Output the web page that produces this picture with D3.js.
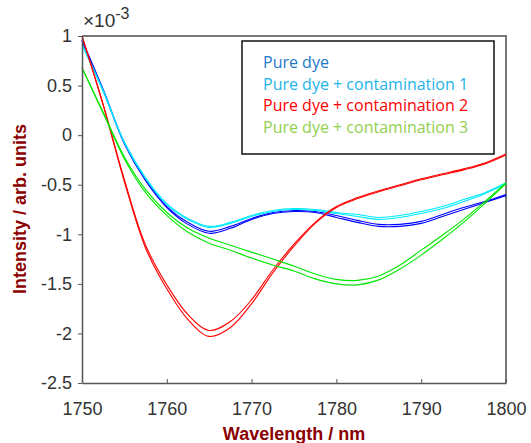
<!DOCTYPE html>
<html>
<head>
<meta charset="utf-8">
<script src="https://cdn.jsdelivr.net/npm/d3@7"></script>
<style>
  body { margin: 0; background: #fff; }
  svg { display: block; }
</style>
</head>
<body>
<script>
const width = 531;
const height = 443;
const margin = { left: 82, right: 25, top: 36, bottom: 60 };

// wavelength grid (nm), intensity in units of 1e-3
const wavelengths = [1750, 1752.5, 1755, 1757.5, 1760, 1762.5, 1765, 1767.5, 1770, 1772.5,
    1775, 1777.5, 1780, 1782.5, 1785, 1787.5, 1790, 1792.5, 1795, 1797.5, 1800];

const pureDyeA = [0.96, 0.46, -0.08, -0.45, -0.72, -0.88, -0.97, -0.92, -0.84, -0.78,
    -0.76, -0.77, -0.81, -0.86, -0.90, -0.90, -0.87, -0.80, -0.73, -0.67, -0.60];
const pureDyeB = [0.95, 0.45, -0.09, -0.46, -0.73, -0.90, -0.99, -0.94, -0.85, -0.79,
    -0.77, -0.78, -0.83, -0.88, -0.92, -0.92, -0.89, -0.82, -0.75, -0.68, -0.61];
const contam1A = [0.91, 0.44, -0.08, -0.44, -0.70, -0.85, -0.93, -0.89, -0.82, -0.77,
    -0.75, -0.76, -0.79, -0.82, -0.85, -0.83, -0.79, -0.74, -0.67, -0.59, -0.49];
const contam1B = [0.92, 0.45, -0.07, -0.43, -0.69, -0.84, -0.92, -0.88, -0.81, -0.76,
    -0.74, -0.75, -0.78, -0.80, -0.83, -0.81, -0.77, -0.72, -0.65, -0.58, -0.48];
const contam2A = [1.00, 0.31, -0.45, -1.11, -1.51, -1.81, -1.97, -1.88, -1.66, -1.36,
    -1.10, -0.88, -0.72, -0.63, -0.56, -0.50, -0.44, -0.39, -0.34, -0.28, -0.19];
const contam2B = [1.00, 0.30, -0.47, -1.14, -1.55, -1.86, -2.03, -1.94, -1.70, -1.39,
    -1.12, -0.89, -0.73, -0.64, -0.57, -0.51, -0.45, -0.40, -0.35, -0.29, -0.20];
const contam3A = [0.68, 0.23, -0.22, -0.55, -0.78, -0.94, -1.04, -1.11, -1.18, -1.25,
    -1.32, -1.40, -1.455, -1.465, -1.42, -1.31, -1.16, -1.01, -0.85, -0.67, -0.48];
const contam3B = [0.68, 0.22, -0.24, -0.58, -0.81, -0.98, -1.09, -1.16, -1.24, -1.31,
    -1.37, -1.45, -1.50, -1.51, -1.46, -1.35, -1.21, -1.05, -0.88, -0.69, -0.49];

const xTicks = [1750, 1760, 1770, 1780, 1790, 1800];
const yTicks = [1, 0.5, 0, -0.5, -1, -1.5, -2, -2.5];

const legendNames = ["Pure dye", "Pure dye + contamination 1",
    "Pure dye + contamination 2", "Pure dye + contamination 3"];
const legendColors = ["#1f78c8", "#1eb4ea", "#ff0000", "#92d050"];

const series = [
    { values: pureDyeA, color: "#0000ff" },
    { values: pureDyeB, color: "#0000ff" },
    { values: contam1A, color: "#00eaff" },
    { values: contam1B, color: "#00eaff" },
    { values: contam2A, color: "#ff0000" },
    { values: contam2B, color: "#ff0000" },
    { values: contam3A, color: "#00e600" },
    { values: contam3B, color: "#00e600" }
];

const svg = d3.select("body")
    .append("svg")
    .attr("width", width)
    .attr("height", height);

const x = d3.scaleLinear()
    .domain([1750, 1800])
    .range([margin.left, width - margin.right]);
const y = d3.scaleLinear()
    .domain([-2.5, 1])
    .range([height - margin.bottom, margin.top]);

// frame: top and right edges
svg.append("path")
    .attr("d", `M${x(1750)},${y(1)}H${x(1800)}V${y(-2.5)}`)
    .attr("fill", "none")
    .attr("stroke", "#777")
    .attr("stroke-width", 2);

const line = d3.line()
    .x((d, i) => x(wavelengths[i]))
    .y(d => y(d))
    .curve(d3.curveCatmullRom.alpha(0.5));

svg.append("g")
    .selectAll("path")
    .data(series)
    .enter()
    .append("path")
    .attr("d", d => line(d.values))
    .attr("fill", "none")
    .attr("stroke", d => d.color)
    .attr("stroke-width", 1.1);

svg.append("g")
    .attr("transform", `translate(0,${y(-2.5)})`)
    .call(d3.axisBottom(x).tickValues(xTicks).tickFormat(d => d).tickSizeInner(-4).tickSizeOuter(0).tickPadding(19));
svg.append("g")
    .attr("transform", `translate(${x(1750)},0)`)
    .call(d3.axisLeft(y).tickValues(yTicks).tickFormat(d => String(d)).tickSizeInner(4).tickSizeOuter(0).tickPadding(6));

svg.selectAll(".domain").attr("stroke", "#555").attr("stroke-width", 1.5);
svg.selectAll(".tick line").attr("stroke", "#555");
svg.selectAll(".tick text")
    .attr("fill", "#333")
    .style("font-family", "Liberation Sans, Arial, sans-serif")
    .style("font-size", "18px");

// exponent label
const expo = svg.append("text")
    .attr("x", x(1750) + 1)
    .attr("y", 27)
    .attr("fill", "#333")
    .style("font-family", "Liberation Sans, Arial, sans-serif")
    .style("font-size", "19px");
expo.append("tspan").text("\u00d710");
expo.append("tspan").attr("dy", -8).style("font-size", "16px").text("-3");

// axis titles
svg.append("text")
    .attr("x", (x(1750) + x(1800)) / 2)
    .attr("y", 440)
    .attr("text-anchor", "middle")
    .attr("fill", "#8b0000")
    .style("font-family", "Liberation Sans, Arial, sans-serif")
    .style("font-weight", "bold")
    .style("font-size", "18px")
    .text("Wavelength / nm");

svg.append("text")
    .attr("transform", "translate(26,209) rotate(-90)")
    .attr("text-anchor", "middle")
    .attr("fill", "#8b0000")
    .style("font-family", "Liberation Sans, Arial, sans-serif")
    .style("font-weight", "bold")
    .style("font-size", "18px")
    .text("Intensity / arb. units");

// legend
const legend = svg.append("g");
legend.append("rect")
    .attr("x", 242)
    .attr("y", 41)
    .attr("width", 252)
    .attr("height", 113)
    .attr("fill", "#fff")
    .attr("stroke", "#111")
    .attr("stroke-width", 1.5);

legend.selectAll("text")
    .data(legendNames)
    .enter()
    .append("text")
    .attr("x", 263)
    .attr("y", (d, i) => 68 + i * 21.7)
    .attr("fill", (d, i) => legendColors[i])
    .style("font-family", "Open Sans, sans-serif")
    .style("font-size", "16px")
    .text(d => d);
</script>
</body>
</html>
